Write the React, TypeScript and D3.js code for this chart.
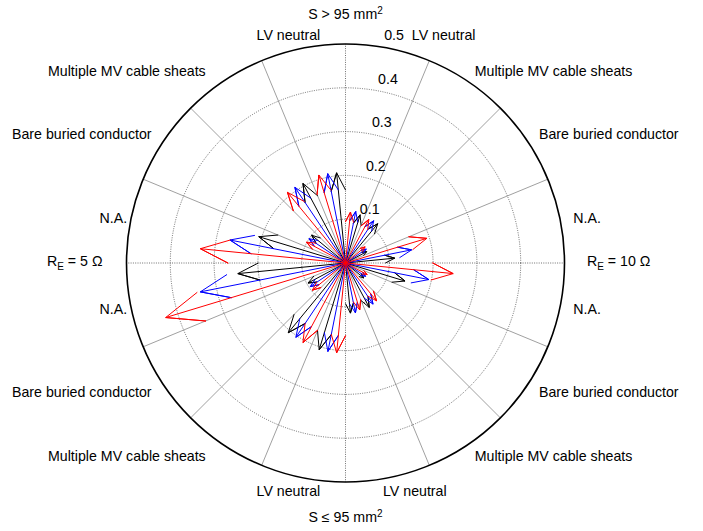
import React from "react";
import * as d3 from "d3";

// ---- data ----
// 16 sectors of 22.5°, counter-clockwise from east. Each sector holds three compass arrows
// (black, blue, red) at +5.625°, +11.25°, +16.875° from the sector start.
const blackValues = [0.113, 0.055, 0.116, 0.115, 0.207, 0.206, 0.100, 0.207, 0.247, 0.097, 0.206, 0.207, 0.115, 0.115, 0.054, 0.142];
const blueValues = [0.154, 0.057, 0.116, 0.120, 0.208, 0.208, 0.100, 0.269, 0.338, 0.097, 0.204, 0.206, 0.116, 0.113, 0.055, 0.194];
const redValues = [0.194, 0.058, 0.113, 0.117, 0.210, 0.209, 0.101, 0.333, 0.429, 0.098, 0.206, 0.206, 0.112, 0.112, 0.056, 0.247];
const ringTicks = [0.1, 0.2, 0.3, 0.4, 0.5];
const sectorStep = 22.5;

// ---- layout ----
const W = 703, H = 531;
const cx = 345.5, cy = 263, R = 219;
const FONT = "'Liberation Sans', Arial, Helvetica, sans-serif";
const FS = 14.2;

type Lbl = { t: string; x: number; y: number };
const labelLayout: Lbl[] = [
  { t: "LV neutral", x: 256.6, y: 35 },
  { t: "LV neutral", x: 411.8, y: 35 },
  { t: "Multiple MV cable sheats", x: 48, y: 70.6 },
  { t: "Multiple MV cable sheats", x: 474.7, y: 70.6 },
  { t: "Bare buried conductor", x: 12, y: 134 },
  { t: "Bare buried conductor", x: 539, y: 134 },
  { t: "N.A.", x: 99.6, y: 218.5 },
  { t: "N.A.", x: 573.3, y: 218.5 },
  { t: "N.A.", x: 99.6, y: 309 },
  { t: "N.A.", x: 573.3, y: 309 },
  { t: "Bare buried conductor", x: 12, y: 392.5 },
  { t: "Bare buried conductor", x: 539, y: 392.5 },
  { t: "Multiple MV cable sheats", x: 48, y: 456.5 },
  { t: "Multiple MV cable sheats", x: 474.7, y: 456.5 },
  { t: "LV neutral", x: 256.6, y: 491.5 },
  { t: "LV neutral", x: 383, y: 491.5 },
];

const series = [
  { values: blackValues, color: "#000000", offset: 1 },
  { values: blueValues, color: "#0000ff", offset: 2 },
  { values: redValues, color: "#ff0000", offset: 3 },
];

export default function App() {
  const rScale = d3.scaleLinear().domain([0, 0.5]).range([0, R]);
  const toXY = (x: number, y: number): [number, number] => [cx + rScale(x), cy - rScale(y)];
  const line = d3.line();

  // MATLAB compass arrow: [0 1 .8 1 .8] + i[0 0 .08 0 -.08], multiplied by z
  const arrow = (deg: number, r: number) => {
    const a = (deg * Math.PI) / 180;
    const zr = r * Math.cos(a), zi = r * Math.sin(a);
    const base: [number, number][] = [[0, 0], [1, 0], [0.8, 0.08], [1, 0], [0.8, -0.08]];
    const pts = base.map(([u, v]) => toXY(u * zr - v * zi, u * zi + v * zr));
    return line(pts) as string;
  };

  const spokes = d3.range(0, 360, sectorStep);
  const c82 = Math.cos((82 * Math.PI) / 180), s82 = Math.sin((82 * Math.PI) / 180);

  return (
    <div style={{ position: "fixed", left: 0, top: 0 }}>
      <svg width={W} height={H} style={{ display: "block", background: "#fff" }}>
        {/* rings */}
        {ringTicks.slice(0, -1).map((t) => (
          <circle key={t} cx={cx} cy={cy} r={rScale(t)} fill="none" stroke="#333" strokeWidth={0.7} strokeDasharray="1 1.3" />
        ))}
        {/* spokes */}
        {spokes.map((d) => {
          const a = (d * Math.PI) / 180;
          const [x2, y2] = toXY(0.5 * Math.cos(a), 0.5 * Math.sin(a));
          const axis = d % 90 === 0;
          return (
            <line key={d} x1={cx} y1={cy} x2={x2} y2={y2}
              stroke={axis ? "#333" : "#777"} strokeWidth={axis ? 0.7 : 0.7}
              strokeDasharray={axis ? "1 1.3" : undefined} />
          );
        })}
        {/* arrows */}
        {series.map((s) =>
          s.values.map((v, i) => (
            <path key={s.color + i} d={arrow(i * sectorStep + s.offset * (sectorStep / 4), v)}
              fill="none" stroke={s.color} strokeWidth={1} strokeLinejoin="miter" />
          ))
        )}
        {/* outer circle */}
        <circle cx={cx} cy={cy} r={rScale(0.5)} fill="none" stroke="#000" strokeWidth={1.6} />
        {/* ring labels */}
        {ringTicks.map((t) => {
          const rr = rScale(t + 0.005);
          return (
            <text key={t} x={cx + rr * c82 + 7.9} y={cy - rr * s82 - 3.5} fontFamily={FONT} fontSize={FS} fill="#000">
              {String(t)}
            </text>
          );
        })}
        {/* sector labels */}
        {labelLayout.map((l, i) => (
          <text key={i} x={l.x} y={l.y} dy="0.35em" fontFamily={FONT} fontSize={FS} fill="#000">{l.t}</text>
        ))}
        {/* axis labels */}
        <text x={cx} y={19} textAnchor="middle" fontFamily={FONT} fontSize={FS}>
          S &gt; 95 mm<tspan dy={-5} fontSize={10}>2</tspan>
        </text>
        <text x={cx} y={522} textAnchor="middle" fontFamily={FONT} fontSize={FS}>
          S ≤ 95 mm<tspan dy={-5} fontSize={10}>2</tspan>
        </text>
        <text x={47} y={266} fontFamily={FONT} fontSize={FS}>
          R<tspan dy={4} fontSize={10}>E</tspan><tspan dy={-4}> = 5 Ω</tspan>
        </text>
        <text x={587} y={266} fontFamily={FONT} fontSize={FS}>
          R<tspan dy={4} fontSize={10}>E</tspan><tspan dy={-4}> = 10 Ω</tspan>
        </text>
      </svg>
    </div>
  );
}
